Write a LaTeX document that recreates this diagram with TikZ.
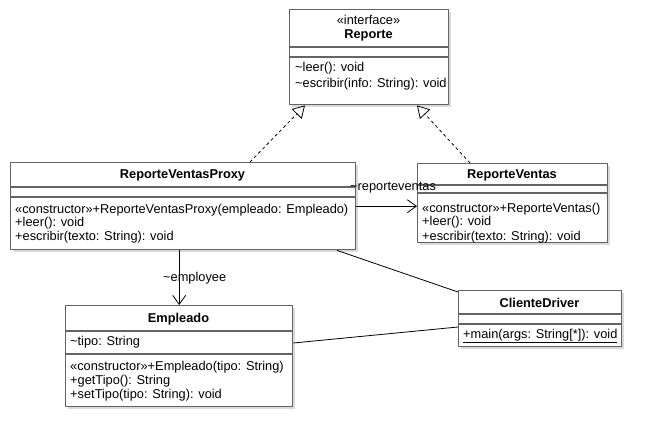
\documentclass[tikz,border=0pt]{standalone}
\usepackage{fontspec}
\setmainfont{Liberation Sans}
\usetikzlibrary{arrows.meta}
\definecolor{bordercol}{RGB}{100,100,100}
\definecolor{shadowcol}{RGB}{218,218,218}
\tikzset{
  classbox/.style={draw=bordercol, line width=1.4pt, fill=white, inner sep=0pt, anchor=north west},
  sep/.style={draw=bordercol, line width=1.4pt},
  txt/.style={inner sep=0pt, anchor=west, font=\fontsize{12.8}{14}\selectfont},
  ttl/.style={inner sep=0pt, font=\fontsize{12.8}{14}\selectfont\bfseries},
  real/.style={draw=black, line width=0.8pt, dash pattern=on 3pt off 3pt,
    -{Triangle[open, length=12pt, width=14pt, fill=white, line width=0.8pt]}},
  assoc/.style={draw=black, line width=0.8pt, -{Straight Barb[length=9pt, width=13pt, line width=0.8pt]}},
  plain/.style={draw=black, line width=0.8pt},
}
\newcommand\classbox[7]{%
  \fill[shadowcol] (#2+3,#3+3) rectangle (#4+3,#5+3);
  \node[classbox, minimum width=#4pt-#2pt, minimum height=#5pt-#3pt] (#1) at (#2,#3) {};
  \draw[sep] (#2,#6) -- (#4,#6) (#2,#7) -- (#4,#7);
}
\begin{document}
\begin{tikzpicture}[x=1pt, y=-1pt]
\useasboundingbox (0,0) rectangle (661,446);
\fill[white] (0,0) rectangle (661,446);

% Reporte
\classbox{reporte}{289}{9}{448}{104}{47}{57}
\node[txt, anchor=center] (repst) at (368.5,20) {«interface»};
\node[ttl] (repname) at (368.5,35) {Reporte};
\node[txt] (rep1) at (295,68) {\textasciitilde leer(): void};
\node[txt] (rep2) at (295,84) {\textasciitilde escribir(info: String): void};

% ReporteVentasProxy
\classbox{proxy}{10}{162}{355}{249}{187}{197}
\node[ttl] (proxyname) at (182.5,175) {ReporteVentasProxy};
\node[txt] (px1) at (15,210) {«constructor»+ReporteVentasProxy(empleado: Empleado)};
\node[txt] (px2) at (15,223) {+leer(): void};
\node[txt] (px3) at (15,237) {+escribir(texto: String): void};

% ReporteVentas
\classbox{rventas}{417}{163}{607}{242}{185}{193}
\node[ttl] (rvname) at (512,175) {ReporteVentas};
\node[txt] (rv1) at (422,209) {«constructor»+ReporteVentas()};
\node[txt] (rv2) at (422,222) {+leer(): void};
\node[txt] (rv3) at (422,237) {+escribir(texto: String): void};

% Empleado
\classbox{empleado}{65}{305}{292}{406}{331}{354}
\node[ttl] (empname) at (178.5,319) {Empleado};
\node[txt] (em0) at (70,342) {\textasciitilde tipo: String};
\node[txt] (em1) at (70,367) {«constructor»+Empleado(tipo: String)};
\node[txt] (em2) at (70,381) {+getTipo(): String};
\node[txt] (em3) at (70,395) {+setTipo(tipo: String): void};

% ClienteDriver
\classbox{cliente}{458}{290}{621}{346}{314}{324}
\node[ttl] (clname) at (539.5,303) {ClienteDriver};
\node[txt] (cl1) at (463,336) {\underline{+main(args: String[*]): void}};

% Realizations
\draw[real] ([xshift=240pt]proxy.north west) -- ([xshift=16pt]reporte.south west);
\draw[real] ([xshift=53pt]rventas.north west) -- ([xshift=128pt]reporte.south west);

% Associations
\draw[assoc] (proxy.east) -- (proxy.east -| rventas.west);
\node[txt] (lblrv) at (350,188) {\textasciitilde reporteventas};
\draw[assoc] (empleado.north |- proxy.south) -- (empleado.north);
\node[txt] (lblemp) at (163,278) {\textasciitilde employee};

\draw[plain] ([xshift=327pt]proxy.south west) -- ([yshift=-2pt]cliente.north west);
\draw[plain] ([yshift=-38pt]empleado.north east) -- ([yshift=-37pt]cliente.north west);
\end{tikzpicture}
\end{document}
